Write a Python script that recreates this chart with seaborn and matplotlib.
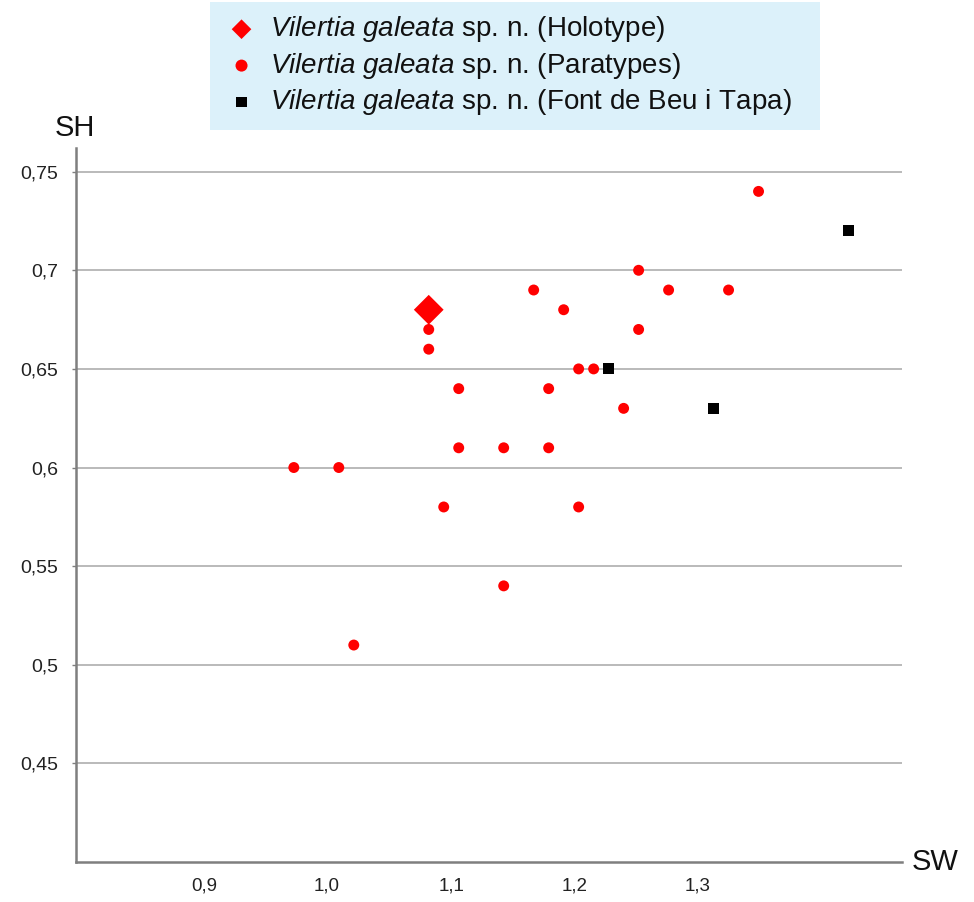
import pandas as pd
import matplotlib.pyplot as plt
import seaborn as sns

# === Data (shell width SW vs shell height SH) ===
holo_sw = [1.05]
holo_sh = [0.68]

para_sw = [1.27, 1.19, 1.12, 1.21, 1.25, 1.14, 1.05, 1.19, 1.05, 1.15, 1.16, 1.07,
           1.13, 1.18, 1.07, 1.10, 1.13, 0.96, 0.99, 1.06, 1.15, 1.10, 1.00]
para_sh = [0.74, 0.70, 0.69, 0.69, 0.69, 0.68, 0.67, 0.67, 0.66, 0.65, 0.65, 0.64,
           0.64, 0.63, 0.61, 0.61, 0.61, 0.60, 0.60, 0.58, 0.58, 0.54, 0.51]

font_sw = [1.17, 1.24, 1.33]
font_sh = [0.65, 0.63, 0.72]

x_tick_labels = ["0,9", "1,0", "1,1", "1,2", "1,3"]
y_ticks = [0.45, 0.5, 0.55, 0.6, 0.65, 0.7, 0.75]
y_tick_labels = ["0,45", "0,5", "0,55", "0,6", "0,65", "0,7", "0,75"]

holo = pd.DataFrame({"SW": holo_sw, "SH": holo_sh})
para = pd.DataFrame({"SW": para_sw, "SH": para_sh})
font = pd.DataFrame({"SW": font_sw, "SH": font_sh})

# --- Style ---
sns.set_style("white")
plt.rcParams["font.family"] = ["Liberation Sans", "DejaVu Sans"]
plt.rcParams["mathtext.fontset"] = "custom"
plt.rcParams["mathtext.it"] = "Liberation Sans:italic"
plt.rcParams["mathtext.rm"] = "Liberation Sans"

fig = plt.figure(figsize=(9.74, 9.02), dpi=100)
ax = fig.add_axes([76 / 974, 40 / 902, 826 / 974, 714 / 902])

name = r"$\mathit{Vilertia\ galeata}$ sp. n. "
sns.scatterplot(data=holo, x="SW", y="SH", ax=ax, marker="D", s=230,
                color="#ff0000", edgecolor="none", label=name + "(Holotype)", zorder=3)
sns.scatterplot(data=para, x="SW", y="SH", ax=ax, marker="o", s=62,
                color="#ff0000", edgecolor="none", label=name + "(Paratypes)", zorder=4)
sns.scatterplot(data=font, x="SW", y="SH", ax=ax, marker="s", s=62,
                color="#000000", edgecolor="none",
                label=name + "(Font de Beu i Tapa)", zorder=4)

ax.set_xlim(0.8147, 1.3657)
ax.set_ylim(0.4, 0.762)

# --- Grid & axes ---
for yv in y_ticks:
    ax.axhline(yv, color="#b4b4b4", lw=1.3, zorder=1)
for side in ["top", "right"]:
    ax.spines[side].set_visible(False)
for side in ["left", "bottom"]:
    ax.spines[side].set_color("#7f7f7f")
    ax.spines[side].set_linewidth(1.8)

ax.set_yticks(y_ticks)
ax.set_yticklabels(y_tick_labels)
# x labels sit where they are printed in the original figure
ax.set_xticks([0.900, 0.982, 1.065, 1.147, 1.229])
ax.set_xticklabels(x_tick_labels)
ax.tick_params(axis="y", length=3, width=1, color="#7f7f7f", pad=10, labelsize=14,
               labelcolor="#222222", left=True)
ax.tick_params(axis="x", length=0, pad=11, labelsize=13.5, labelcolor="#222222",
               bottom=True)

ax.set_xlabel("")
ax.set_ylabel("")
fig.text(75 / 974, 1 - 128 / 902, "SH", fontsize=21, ha="center", va="center",
         color="#111111")
fig.text(935 / 974, 1 - 862 / 902, "SW", fontsize=21, ha="center", va="center",
         color="#111111")

# --- Legend ---
ax.get_legend().remove()
handles, labels = ax.get_legend_handles_labels()
leg = fig.legend(handles, labels, loc="upper left",
                 bbox_to_anchor=(210 / 974, 1 - 128 / 902, 610 / 974, 126 / 902),
                 mode="expand", fontsize=20, frameon=True, fancybox=False,
                 handlelength=1.37, handletextpad=0.33, labelspacing=0.23,
                 borderpad=0.45, borderaxespad=0)
leg.get_frame().set_facecolor("#dcf1fa")
leg.get_frame().set_edgecolor("none")
leg.get_frame().set_alpha(1)
for t in leg.get_texts():
    t.set_color("#111111")
for h, sz in zip(leg.legend_handles, [100, 75, 55]):
    h.set_sizes([sz])

fig.savefig("out.png", dpi=100)
